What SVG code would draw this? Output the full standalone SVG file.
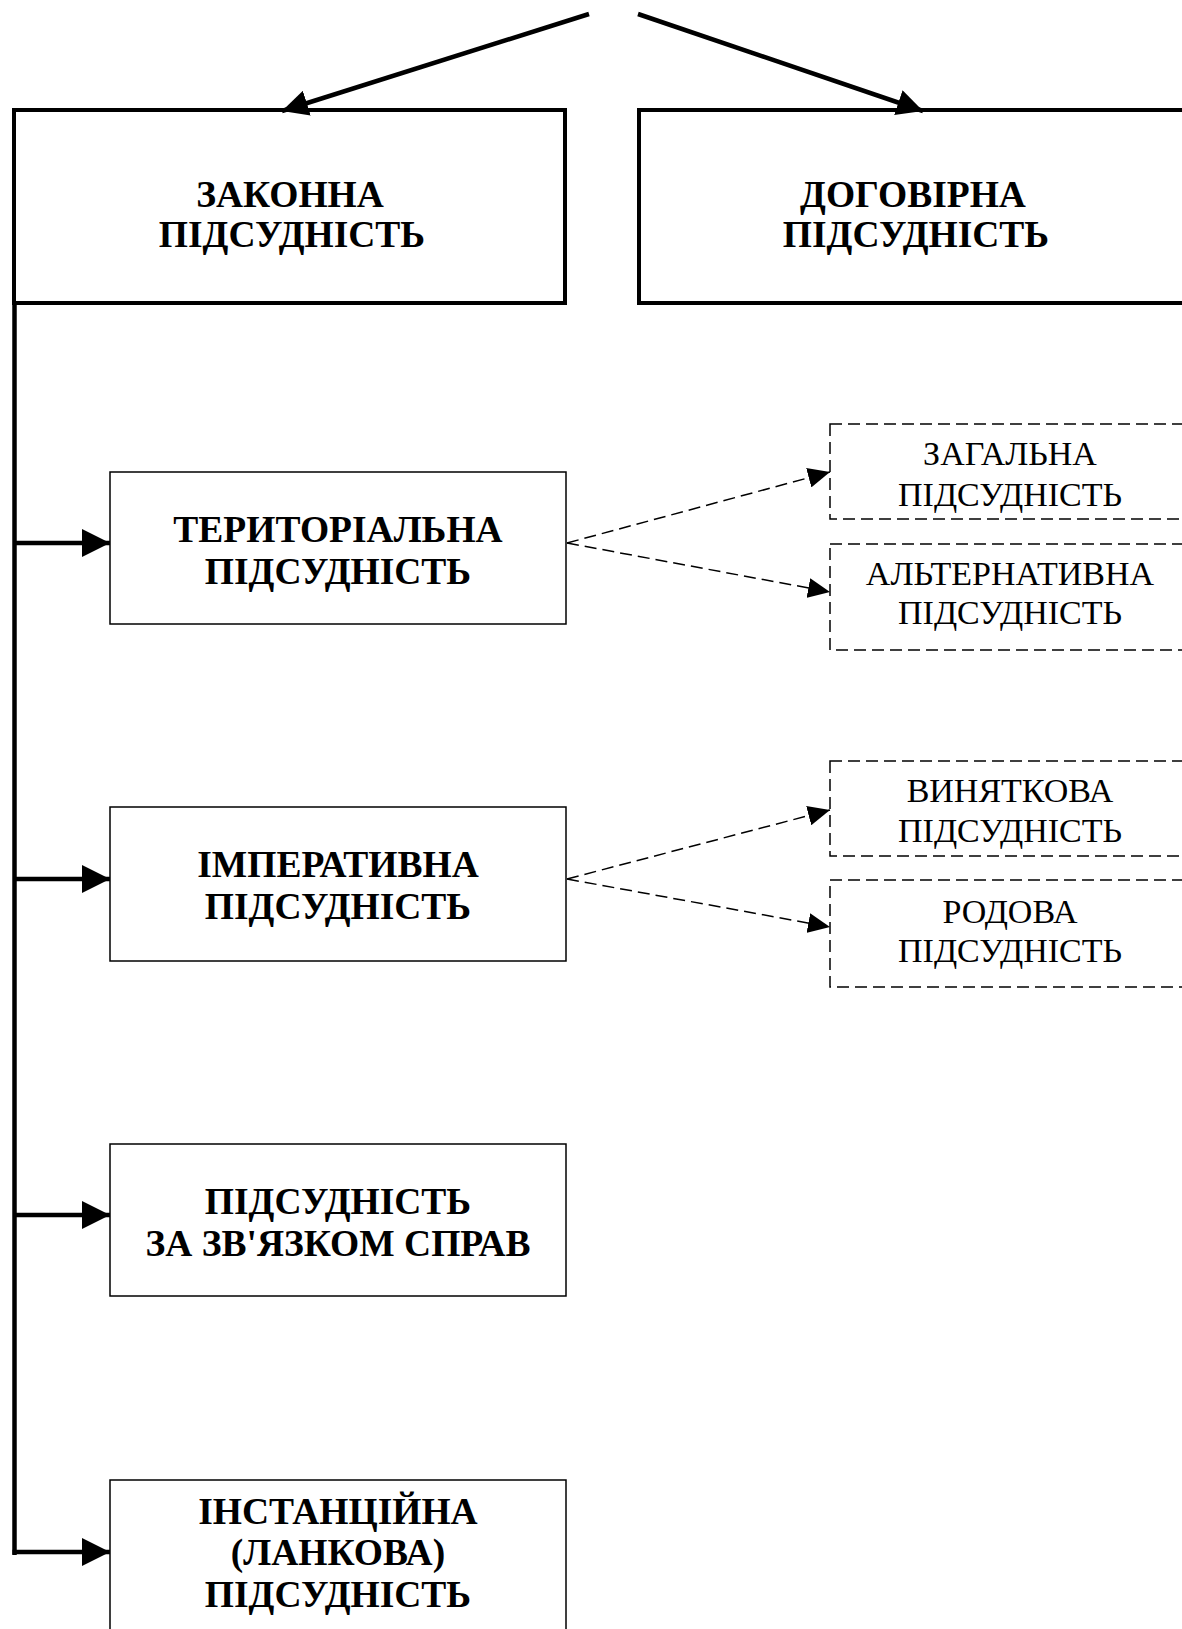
<svg xmlns="http://www.w3.org/2000/svg" width="1182" height="1629" viewBox="0 0 1182 1629">
<style>
.bg{fill:#fff}
.thick{fill:#fff;stroke:#000;stroke-width:4}
.box{fill:#fff;stroke:#000;stroke-width:1.5}
.dbox{fill:#fff;stroke:#000;stroke-width:1.5;stroke-dasharray:12 6}
.tb{font-family:"Liberation Serif","Times New Roman",serif;font-weight:bold;font-size:37.5px;text-anchor:middle;fill:#000}
.tr{font-family:"Liberation Serif","Times New Roman",serif;font-size:34px;text-anchor:middle;fill:#000}
.conn{stroke:#000;stroke-width:4.5;fill:none}
.dconn{stroke:#000;stroke-width:1.5;fill:none;stroke-dasharray:12 6}
</style>
<defs>
<marker id="ah" markerUnits="userSpaceOnUse" markerWidth="28" markerHeight="28" refX="28" refY="14" orient="auto"><path d="M0,0 L28,14 L0,28 z" fill="#000"/></marker>
<marker id="ahTop" markerUnits="userSpaceOnUse" markerWidth="26" markerHeight="26" refX="26" refY="13" orient="auto"><path d="M0,0 L26,13 L0,26 z" fill="#000"/></marker>
<marker id="ahD" markerUnits="userSpaceOnUse" markerWidth="22" markerHeight="20" refX="22" refY="10" orient="auto"><path d="M0,0 L22,10 L0,20 z" fill="#000"/></marker>
</defs>
<rect class="bg" x="0" y="0" width="1182" height="1629"/>

<g id="n-zakonna">
<rect class="thick" x="14" y="110" width="551" height="193"/>
<text class="tb" x="290" y="207">ЗАКОННА</text>
<text class="tb" x="292" y="247">ПІДСУДНІСТЬ</text>
</g>
<g id="n-dogovirna">
<rect class="thick" x="639" y="110" width="560" height="193"/>
<text class="tb" x="913" y="207">ДОГОВІРНА</text>
<text class="tb" x="916" y="247">ПІДСУДНІСТЬ</text>
</g>

<g id="n-terytorialna">
<rect class="box" x="110" y="472" width="456" height="152"/>
<text class="tb" x="338" y="542">ТЕРИТОРІАЛЬНА</text>
<text class="tb" x="338" y="584">ПІДСУДНІСТЬ</text>
</g>
<g id="n-imperatyvna">
<rect class="box" x="110" y="807" width="456" height="154"/>
<text class="tb" x="338" y="877">ІМПЕРАТИВНА</text>
<text class="tb" x="338" y="919">ПІДСУДНІСТЬ</text>
</g>
<g id="n-zviazok">
<rect class="box" x="110" y="1144" width="456" height="152"/>
<text class="tb" x="338" y="1214">ПІДСУДНІСТЬ</text>
<text class="tb" x="338" y="1256">ЗА ЗВ'ЯЗКОМ СПРАВ</text>
</g>
<g id="n-instantsiina">
<rect class="box" x="110" y="1480" width="456" height="170"/>
<text class="tb" x="338" y="1524">ІНСТАНЦІЙНА</text>
<text class="tb" x="338" y="1565">(ЛАНКОВА)</text>
<text class="tb" x="338" y="1607">ПІДСУДНІСТЬ</text>
</g>

<g id="n-zagalna">
<rect class="dbox" x="830" y="424" width="370" height="95"/>
<text class="tr" x="1010" y="465">ЗАГАЛЬНА</text>
<text class="tr" x="1010" y="506">ПІДСУДНІСТЬ</text>
</g>
<g id="n-alternatyvna">
<rect class="dbox" x="830" y="544" width="370" height="106"/>
<text class="tr" x="1010" y="585">АЛЬТЕРНАТИВНА</text>
<text class="tr" x="1010" y="624">ПІДСУДНІСТЬ</text>
</g>
<g id="n-vyniatkova">
<rect class="dbox" x="830" y="761" width="370" height="95"/>
<text class="tr" x="1010" y="802">ВИНЯТКОВА</text>
<text class="tr" x="1010" y="842">ПІДСУДНІСТЬ</text>
</g>
<g id="n-rodova">
<rect class="dbox" x="830" y="880" width="370" height="107"/>
<text class="tr" x="1010" y="923">РОДОВА</text>
<text class="tr" x="1010" y="962">ПІДСУДНІСТЬ</text>
</g>

<g id="connectors">
<line class="conn" x1="589" y1="14" x2="282" y2="111" marker-end="url(#ahTop)"/>
<line class="conn" x1="638" y1="14" x2="923" y2="111" marker-end="url(#ahTop)"/>
<line class="conn" x1="14.5" y1="303" x2="14.5" y2="1555"/>
<line class="conn" x1="14.5" y1="543" x2="110" y2="543" marker-end="url(#ah)"/>
<line class="conn" x1="14.5" y1="879" x2="110" y2="879" marker-end="url(#ah)"/>
<line class="conn" x1="14.5" y1="1215" x2="110" y2="1215" marker-end="url(#ah)"/>
<line class="conn" x1="12.5" y1="1552" x2="110" y2="1552" marker-end="url(#ah)"/>
<line class="dconn" x1="567" y1="543" x2="830" y2="472" marker-end="url(#ahD)"/>
<line class="dconn" x1="567" y1="543" x2="830" y2="592" marker-end="url(#ahD)"/>
<line class="dconn" x1="567" y1="879" x2="830" y2="810" marker-end="url(#ahD)"/>
<line class="dconn" x1="567" y1="879" x2="830" y2="927" marker-end="url(#ahD)"/>
</g>
</svg>
